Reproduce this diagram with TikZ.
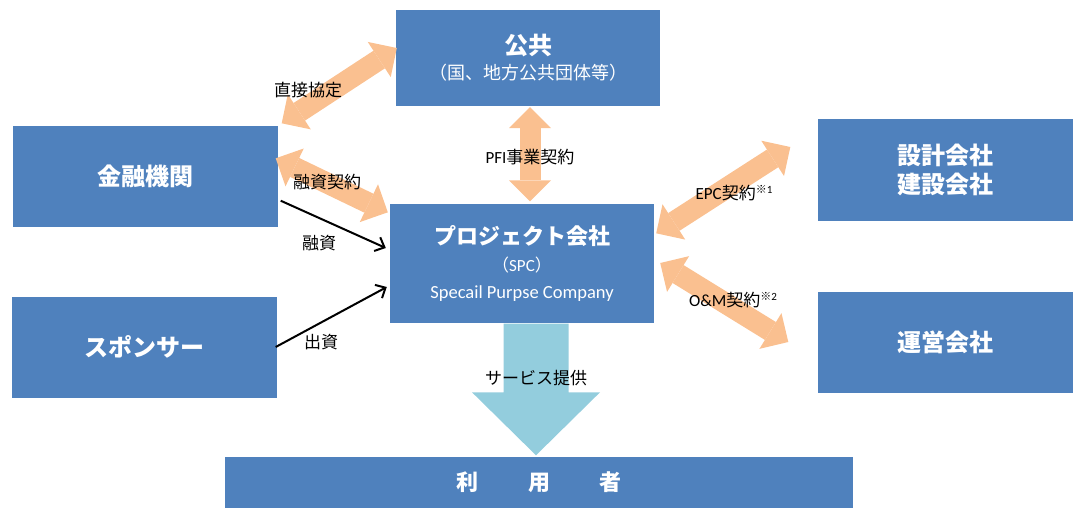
\documentclass[tikz,border=0pt]{standalone}
\usepackage{fontspec}
\setmainfont{Noto Sans CJK JP}
\newfontfamily\lat{Carlito}
\usetikzlibrary{arrows.meta,calc}
\definecolor{boxblue}{HTML}{4F81BD}
\definecolor{orangec}{HTML}{FAC090}
\definecolor{svcblue}{HTML}{93CDDD}
\tikzset{
  box/.style={fill=boxblue, draw=none, text=white, inner sep=0pt, align=center, font=\fontsize{24}{29}\selectfont\bfseries},
  dbl/.style={draw=orangec, line width=21pt,
    {Triangle[length=21pt,width=42pt,line width=0pt,fill=orangec]}-{Triangle[length=21pt,width=42pt,line width=0pt,fill=orangec]}},
  flow/.style={draw=black, line width=2pt, -{Straight Barb[length=8pt,width=15pt,line width=2pt]}},
  lbl/.style={text=black, inner sep=0pt, font=\fontsize{17}{20}\selectfont},
}
\begin{document}
\begin{tikzpicture}[x=1pt,y=-1pt]
\useasboundingbox (0,0) rectangle (1075,509);
% boxes
\node[box, minimum width=264pt, minimum height=96pt] (kokyo) at (528,58)
  {公共\\[-4pt]{\mdseries\fontsize{18}{20}\selectfont （国、地方公共団体等）}};
\node[box, minimum width=265pt, minimum height=101pt] (kinyu) at (145,176) {金融機関};
\node[box, minimum width=265pt, minimum height=101pt] (sponsor) at (144,347) {スポンサー};
\node[box, minimum width=264pt, minimum height=119pt] (pj) at (522,263)
  {{\fontsize{22}{24}\selectfont プロジェクト会社}\\[-2pt]{\mdseries\fontsize{17}{24}\selectfont （{\lat SPC}）}\\[-2pt]{\mdseries\lat\fontsize{18.5}{24}\selectfont Specail Purpse Company}};
\node[box, minimum width=255pt, minimum height=102pt] (sekkei) at (945,170) {設計会社\\建設会社};
\node[box, minimum width=255pt, minimum height=101pt] (unei) at (945,342) {運営会社};
\node[box, minimum width=628pt, minimum height=51pt] (user) at (539,482) {\fontsize{22}{24}\selectfont 利\hspace{2.25em}用\hspace{2.25em}者};

% service arrow
\coordinate (s) at ($(pj.south)+(14,1)$);
\coordinate (t) at ($(user.north)+(-3,-1)$);
\fill[svcblue] ($(s)+(-32.5,0)$) -- ($(s)+(32.5,0)$) -- ($(t)+(32.5,-63)$) -- ($(t)+(64,-63)$)
  -- (t) -- ($(t)+(-64,-63)$) -- ($(t)+(-32.5,-63)$) -- cycle;

% orange double arrows
\coordinate (a1) at ($(kinyu.north east)+(4,-2)$);
\coordinate (a2) at ($(kokyo.west)+(1,-10)$);
\draw[dbl] (a1) -- (a2);
\coordinate (b1) at ($(kinyu.north east)+(-2,33)$);
\coordinate (b2) at ($(pj.north west)+(-2,9)$);
\draw[dbl] (b1) -- (b2);
\coordinate (c1) at ($(kokyo.south)+(2,1)$);
\coordinate (c2) at ($(pj.north)+(8,-2)$);
\draw[dbl] (c1) -- (c2);
\coordinate (d1) at ($(pj.north east)+(2,30)$);
\coordinate (d2) at ($(sekkei.west)+(-27,-23)$);
\draw[dbl] (d1) -- (d2);
\coordinate (e1) at ($(pj.east)+(6,0)$);
\coordinate (e2) at ($(unei.west)+(-29,0)$);
\draw[dbl] (e1) -- (e2);

% black flows
\coordinate (f1) at ($(kinyu.south east)+(3,-26)$);
\coordinate (f2) at ($(pj.west)+(-4,-15)$);
\draw[flow] (f1) -- (f2);
\coordinate (g1) at ($(sponsor.east)+(-1,0)$);
\coordinate (g2) at ($(pj.west)+(-3,24)$);
\draw[flow] (g1) -- (g2);

% labels
\node[lbl] (l1) at (308,90) {直接協定};
\node[lbl] (l2) at (327,182) {融資契約};
\node[lbl] (l3) at (319,243) {融資};
\node[lbl] (l4) at (321,342) {出資};
\node[lbl] (l5) at (530,157) {{\lat PFI}事業契約};
\node[lbl] (l6) at (734,193) {{\lat EPC}契約\raisebox{6pt}{\fontsize{11}{11}\selectfont ※{\lat 1}}};
\node[lbl] (l7) at (733,300) {{\lat O\&M}契約\raisebox{6pt}{\fontsize{11}{11}\selectfont ※{\lat 2}}};
\node[lbl] (l8) at (536,378) {サービス提供};
\end{tikzpicture}
\end{document}
